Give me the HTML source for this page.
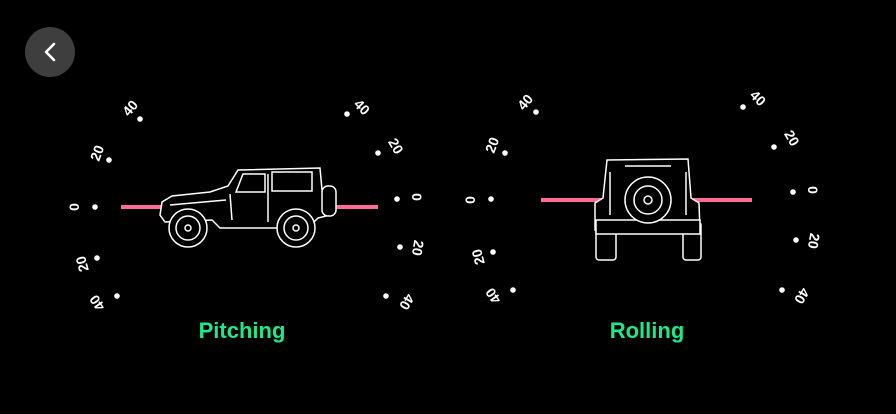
<!DOCTYPE html>
<html><head><meta charset="utf-8"><style>
html,body{margin:0;padding:0;background:#000;width:896px;height:414px;overflow:hidden}
svg{display:block}
text{font-family:"Liberation Sans",sans-serif}
</style></head><body>
<svg width="896" height="414" viewBox="0 0 896 414">
<g>
<circle cx="50" cy="52" r="25" fill="#3e3e3e"/>
<polyline points="54,44 46,52 54,60" fill="none" stroke="#fff" stroke-width="2.6" stroke-linecap="round" stroke-linejoin="round"/>
</g>
<g id="ticks" fill="#fff" font-size="14" font-weight="bold"></g>

<g fill="#ff6b94">
<rect x="121" y="205" width="50" height="4"/>
<rect x="336" y="205" width="42" height="4"/>
</g>
<g fill="#ff6b94">
<rect x="541" y="198" width="60" height="4"/>
<rect x="693" y="198" width="59" height="4"/>
</g>

<g fill="#000" stroke="#fff" stroke-width="1.5">
<path d="M160,215 L162,202 L172,196 L210,192 L228,186 L238,170 L320,168 L322,190 L330,192 L330,215 L318,218 L312,224 L280,228 L220,228 L212,220 L165,222 Z"/>
<path d="M243,174 L265,174 L265,192 L236,192 Z" fill="none"/>
<rect x="272" y="172" width="40" height="19" fill="none"/>
<rect x="322" y="186" width="14" height="30" rx="6"/>
<line x1="170" y1="205" x2="226" y2="200"/>
<circle cx="188" cy="228" r="19"/><circle cx="188" cy="228" r="12" fill="none"/><circle cx="188" cy="228" r="3" fill="none"/>
<circle cx="296" cy="228" r="19"/><circle cx="296" cy="228" r="12" fill="none"/><circle cx="296" cy="228" r="3" fill="none"/>
<line x1="230" y1="194" x2="232" y2="220"/><line x1="268" y1="174" x2="268" y2="222"/>
</g>

<g fill="#000" stroke="#fff" stroke-width="1.5">
<path d="M607,160 L688,159 L691,198 L699,203 L700,232 L605,232 L595,230 L595,203 L603,198 Z"/>
<rect x="596" y="222" width="20" height="38" rx="3"/>
<rect x="683" y="222" width="18" height="38" rx="3"/>
<rect x="596" y="220" width="104" height="14"/>
<circle cx="648" cy="200" r="23"/><circle cx="648" cy="200" r="14" fill="none"/><circle cx="648" cy="200" r="4" fill="none"/>
<line x1="625" y1="166" x2="671" y2="166"/>
<line x1="610" y1="172" x2="610" y2="215"/><line x1="686" y1="172" x2="686" y2="215"/>
</g>

<text x="242" y="338" text-anchor="middle" font-size="22" font-weight="bold" fill="#1ee88a">Pitching</text>
<text x="647" y="338" text-anchor="middle" font-size="22" font-weight="bold" fill="#1ee88a">Rolling</text>
</svg>
<script>
const tickValues=["40","20","0","20","40"];
const gauges=[
 {name:"pitch-left",dots:[[140,119],[109,160],[95,207],[97,258],[117,296]],labels:[[130,108,-50],[97,153,-70],[74,207,-90],[82,264,-105],[97,303,-125]]},
 {name:"pitch-right",dots:[[347,114],[378,153],[397,199],[400,247],[386,296]],labels:[[362,107,45],[396,146,60],[417,197,90],[418,248,100],[407,302,120]]},
 {name:"roll-left",dots:[[536,112],[505,153],[491,199],[493,252],[513,290]],labels:[[525,102,-50],[492,145,-70],[470,200,-90],[478,257,-105],[493,296,-125]]},
 {name:"roll-right",dots:[[743,107],[774,147],[793,192],[796,240],[782,290]],labels:[[758,98,45],[792,138,60],[813,190,90],[814,241,100],[802,296,120]]}
];
const g=document.getElementById('ticks');
const NS="http://www.w3.org/2000/svg";
gauges.forEach(gg=>{
 tickValues.forEach((v,i)=>{
  const c=document.createElementNS(NS,'circle');
  c.setAttribute('cx',gg.dots[i][0]);c.setAttribute('cy',gg.dots[i][1]);c.setAttribute('r',2.8);
  
  
  g.appendChild(c);
  const t=document.createElementNS(NS,'text');
  const [x,y,a]=gg.labels[i];
  t.setAttribute('x',x);t.setAttribute('y',y);
  t.setAttribute('text-anchor','middle');t.setAttribute('dominant-baseline','central');
  t.setAttribute('transform','rotate('+a+' '+x+' '+y+')');
  t.textContent=v;
  
  
  g.appendChild(t);
 });
});
</script>
</body></html>
